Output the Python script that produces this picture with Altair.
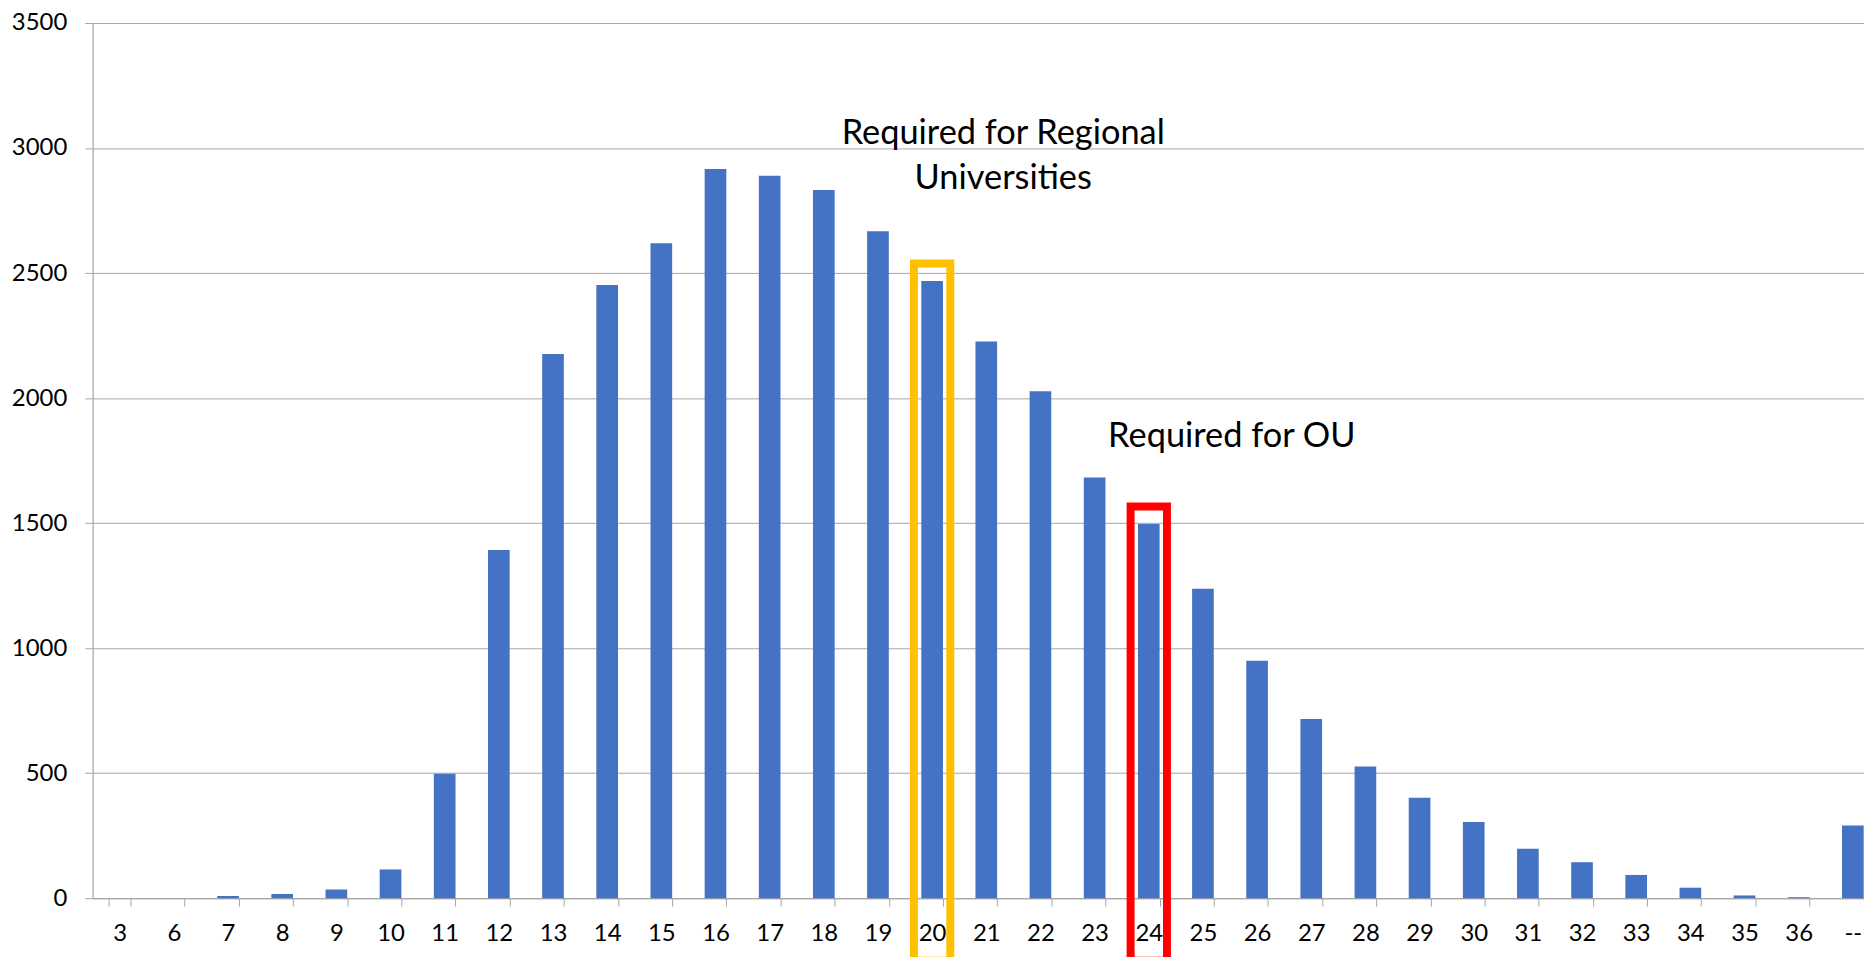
import altair as alt
import pandas as pd

# ---- data ----
categories = ["3", "6", "7", "8", "9", "10", "11", "12", "13", "14", "15", "16",
              "17", "18", "19", "20", "21", "22", "23", "24", "25", "26", "27",
              "28", "29", "30", "31", "32", "33", "34", "35", "36", "--"]
counts = [0, 0, 9, 17, 35, 115, 498, 1392, 2176, 2452, 2619, 2916,
          2889, 2832, 2667, 2468, 2226, 2027, 1682, 1496, 1238, 950, 717,
          527, 402, 305, 198, 144, 93, 42, 11, 4, 291]

highlight_cats = ["20", "24"]
highlight_colors = ["#FFC000", "#FF0000"]

ann_texts = ["Required for Regional\nUniversities", "Required for OU"]
ann_cats = ["21", "25"]
ann_values = [3015, 1805]
y_ticks = [0, 500, 1000, 1500, 2000, 2500, 3000, 3500]

# ---- tables ----
bars_df = pd.DataFrame({"score": categories, "count": counts})
lookup = dict(zip(categories, counts))
box_df = pd.DataFrame({
    "score": highlight_cats,
    "top": [lookup[c] + 70 for c in highlight_cats],
    "bottom": [-250 for _ in highlight_cats],
    "color": highlight_colors,
})
ann_df = pd.DataFrame({"score": ann_cats, "value": ann_values, "label": ann_texts})

GRAY = "#a6a6a6"
FONT = "Lato"

x_scale = alt.Scale(domain=categories, range=[0, 1795], paddingInner=0.6, paddingOuter=0.3)
y_scale = alt.Scale(domain=[0, 3500], nice=False)

x_axis = alt.Axis(title=None, labelAngle=0, tickBand="extent", tickSize=8,
                  tickColor=GRAY, domainColor=GRAY, labelPadding=15,
                  labelFontSize=24, labelFont=FONT, labelColor="#000000", grid=False)
y_axis = alt.Axis(title=None, values=y_ticks, format="d", tickSize=8, tickColor=GRAY,
                  domainColor=GRAY, grid=True, gridColor=GRAY, labelPadding=18,
                  labelFontSize=24, labelFont=FONT, labelColor="#000000")

bars = alt.Chart(bars_df).mark_bar(color="#4472C4").encode(
    x=alt.X("score:O", scale=x_scale, axis=x_axis, sort=categories),
    y=alt.Y("count:Q", scale=y_scale, axis=y_axis),
)

boxes = alt.Chart(box_df).mark_bar(filled=False, strokeWidth=8, width=36.5).encode(
    x=alt.X("score:O", scale=x_scale, sort=categories),
    y=alt.Y("top:Q", scale=y_scale),
    y2="bottom:Q",
    stroke=alt.Stroke("color:N", scale=None),
)

ann1 = alt.Chart(ann_df.iloc[[0]]).mark_text(
    font=FONT, fontSize=34.5, align="center", baseline="alphabetic",
    lineBreak="\n", lineHeight=45, color="#000000", dx=17,
).encode(
    x=alt.X("score:O", scale=x_scale, sort=categories),
    y=alt.Y("value:Q", scale=y_scale),
    text="label:N",
)

ann2 = alt.Chart(ann_df.iloc[[1]]).mark_text(
    font=FONT, fontSize=34.5, align="center", baseline="alphabetic",
    color="#000000", dx=29,
).encode(
    x=alt.X("score:O", scale=x_scale, sort=categories),
    y=alt.Y("value:Q", scale=y_scale),
    text="label:N",
)

chart = alt.layer(bars, boxes, ann1, ann2).properties(
    width=1779,
    height=879,
    autosize=alt.AutoSizeParams(type="none"),
    padding={"left": 85, "top": 13, "right": 0, "bottom": 57},
).configure_view(strokeWidth=0).configure(background="white")

chart.save("out.html", embed_options={"renderer": "svg", "actions": False})
